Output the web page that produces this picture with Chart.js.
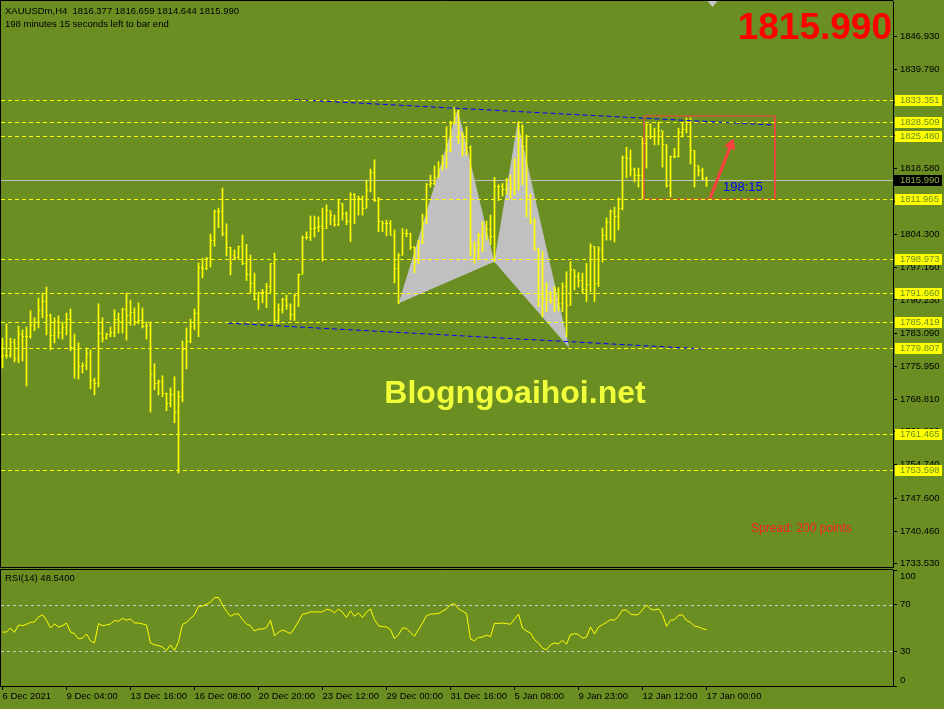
<!DOCTYPE html>
<html>
<head>
<meta charset="utf-8">
<title>XAUUSDm,H4</title>
<script src="https://cdn.jsdelivr.net/npm/chart.js@4.4.1/dist/chart.umd.min.js"></script>
<style>
  html, body { margin: 0; padding: 0; background: #6b8e23; }
  body { width: 944px; height: 709px; position: relative; overflow: hidden; }
  canvas { position: absolute; left: 0; }
  #main { top: 0; }
  #rsi { top: 569px; }
</style>
</head>
<body>
<canvas id="main" width="944" height="569"></canvas>
<canvas id="rsi" width="944" height="140"></canvas>
<script>
// bar data, oldest first (index 0 = 6 Dec 2021)
const opens = [
  1778.0, 1778.2, 1778.2, 1781.0, 1777.7, 1782.7, 1782.3, 1782.3, 1784.8, 1785.3,
  1787.9, 1789.8, 1786.8, 1782.5, 1785.5, 1783.3, 1784.4, 1786.1, 1780.1, 1779.5,
  1775.8, 1776.2, 1778.6, 1773.0, 1772.2, 1783.1, 1782.0, 1782.7, 1783.3, 1786.1,
  1785.5, 1788.1, 1786.8, 1787.6, 1785.5, 1785.7, 1784.6, 1784.8, 1774.1, 1772.2,
  1772.6, 1770.0, 1767.9, 1769.8, 1766.1, 1769.4, 1779.5, 1781.2, 1784.6, 1787.4,
  1797.3, 1797.1, 1799.2, 1803.1, 1809.2, 1809.2, 1804.6, 1801.6, 1799.9, 1799.4,
  1801.7, 1798.1, 1795.6, 1793.7, 1790.4, 1791.8, 1791.8, 1793.2, 1798.0, 1785.9,
  1788.1, 1790.4, 1789.1, 1787.0, 1791.1, 1795.8, 1803.7, 1803.7, 1805.6, 1805.8,
  1806.0, 1805.6, 1809.4, 1807.4, 1806.4, 1811.0, 1808.9, 1807.2, 1813.0, 1811.9,
  1812.1, 1810.0, 1813.7, 1817.7, 1811.6, 1807.1, 1806.7, 1806.6, 1804.2, 1796.9,
  1799.9, 1804.6, 1804.6, 1801.6, 1798.2, 1802.5, 1806.7, 1815.0, 1815.3, 1816.6,
  1818.2, 1819.8, 1822.1, 1828.2, 1830.4, 1826.2, 1825.4, 1823.1, 1801.7, 1801.3,
  1804.2, 1805.6, 1805.4, 1803.8, 1814.6, 1814.6, 1813.9, 1816.2, 1814.3, 1818.9,
  1827.5, 1823.2, 1812.8, 1807.1, 1801.1, 1790.9, 1790.6, 1790.2, 1790.2, 1792.4,
  1789.5, 1793.1, 1789.1, 1796.7, 1795.2, 1794.5, 1792.4, 1793.6, 1801.7, 1793.8,
  1801.0, 1804.2, 1807.0, 1809.2, 1808.1, 1810.0, 1820.8, 1820.6, 1818.2, 1817.1,
  1817.1, 1824.0, 1827.9, 1825.3, 1825.5, 1826.6, 1823.6, 1814.8, 1821.0, 1821.0,
  1826.2, 1826.8, 1828.5, 1822.3, 1819.1, 1818.0, 1816.377
];
const highs = [
  1782.0, 1785.1, 1782.0, 1781.8, 1784.6, 1783.8, 1784.4, 1787.9, 1786.4, 1790.6,
  1791.7, 1793.0, 1787.2, 1786.4, 1786.8, 1785.5, 1787.4, 1788.3, 1782.9, 1781.0,
  1776.7, 1779.9, 1779.5, 1773.4, 1789.4, 1786.4, 1783.1, 1784.4, 1788.1, 1787.4,
  1788.5, 1791.7, 1790.2, 1788.5, 1789.6, 1788.5, 1785.5, 1785.5, 1776.5, 1773.0,
  1773.9, 1770.2, 1771.3, 1773.7, 1770.6, 1781.4, 1784.2, 1786.1, 1788.3, 1798.2,
  1799.2, 1799.4, 1804.4, 1809.6, 1810.0, 1814.3, 1806.6, 1801.6, 1801.0, 1801.8,
  1804.2, 1802.2, 1799.9, 1796.0, 1791.9, 1792.5, 1793.8, 1798.1, 1800.3, 1789.4,
  1790.6, 1791.3, 1789.4, 1791.5, 1795.8, 1804.0, 1804.9, 1808.3, 1808.3, 1808.1,
  1810.0, 1810.7, 1809.4, 1808.5, 1811.9, 1811.0, 1809.2, 1813.3, 1813.1, 1812.6,
  1812.6, 1816.0, 1818.4, 1820.4, 1812.3, 1807.2, 1807.4, 1807.3, 1805.3, 1800.3,
  1805.6, 1805.4, 1804.6, 1801.7, 1803.1, 1808.7, 1815.3, 1817.1, 1819.1, 1820.0,
  1821.4, 1827.5, 1828.7, 1831.7, 1831.1, 1826.2, 1827.5, 1823.4, 1802.8, 1804.6,
  1807.1, 1807.2, 1808.5, 1816.6, 1815.0, 1815.3, 1816.4, 1817.1, 1820.7, 1828.6,
  1827.9, 1825.7, 1813.0, 1807.8, 1801.4, 1800.6, 1793.9, 1792.0, 1793.1, 1792.9,
  1793.9, 1796.3, 1798.5, 1796.7, 1796.1, 1796.0, 1798.1, 1802.3, 1801.7, 1801.7,
  1805.7, 1807.9, 1809.6, 1810.2, 1812.2, 1821.2, 1823.1, 1822.5, 1818.6, 1818.6,
  1825.1, 1828.1, 1828.1, 1827.2, 1828.5, 1826.6, 1823.6, 1821.2, 1822.9, 1827.2,
  1828.3, 1829.4, 1829.4, 1822.4, 1819.1, 1818.6, 1816.659
];
const lows = [
  1775.6, 1777.7, 1777.9, 1776.9, 1776.7, 1777.1, 1771.7, 1782.0, 1783.6, 1784.2,
  1786.4, 1782.7, 1779.5, 1781.0, 1782.0, 1781.8, 1782.7, 1779.3, 1773.4, 1773.2,
  1774.5, 1775.2, 1771.1, 1769.8, 1771.5, 1781.2, 1781.8, 1782.3, 1782.3, 1783.1,
  1783.1, 1781.6, 1784.8, 1784.8, 1785.1, 1784.2, 1781.8, 1766.1, 1770.9, 1769.8,
  1769.4, 1766.4, 1767.2, 1763.8, 1753.0, 1768.3, 1775.4, 1781.0, 1783.8, 1782.3,
  1795.0, 1796.7, 1797.3, 1801.8, 1805.8, 1804.0, 1799.7, 1795.6, 1799.0, 1799.0,
  1797.8, 1794.4, 1791.7, 1790.2, 1788.2, 1789.6, 1788.6, 1791.7, 1785.2, 1785.2,
  1787.4, 1788.2, 1785.9, 1785.8, 1788.8, 1795.8, 1803.3, 1803.0, 1803.8, 1804.9,
  1798.6, 1805.6, 1806.4, 1806.1, 1806.2, 1807.4, 1806.4, 1802.8, 1806.6, 1808.5,
  1808.5, 1810.0, 1813.5, 1811.4, 1804.9, 1804.9, 1804.0, 1804.2, 1793.9, 1789.4,
  1799.9, 1803.8, 1801.1, 1796.1, 1798.1, 1802.4, 1806.7, 1814.5, 1815.0, 1816.6,
  1818.2, 1818.6, 1822.1, 1828.1, 1823.9, 1821.2, 1821.4, 1799.7, 1798.2, 1799.2,
  1800.6, 1803.1, 1802.1, 1798.5, 1811.6, 1812.6, 1813.0, 1812.1, 1812.8, 1813.9,
  1815.0, 1808.1, 1806.6, 1801.0, 1788.8, 1786.6, 1787.7, 1789.5, 1787.7, 1787.9,
  1787.7, 1782.3, 1789.1, 1792.4, 1793.0, 1791.7, 1789.9, 1792.0, 1789.9, 1793.1,
  1798.4, 1803.1, 1803.1, 1802.7, 1805.3, 1809.6, 1816.5, 1816.9, 1815.6, 1814.5,
  1812.0, 1818.6, 1824.9, 1823.6, 1823.6, 1818.8, 1814.5, 1812.4, 1820.8, 1821.0,
  1825.3, 1826.2, 1819.5, 1814.5, 1816.9, 1816.1, 1814.644
];
const closes = [
  1778.2, 1778.2, 1781.0, 1777.7, 1782.7, 1782.3, 1782.3, 1784.8, 1785.3, 1787.9,
  1789.8, 1786.8, 1782.5, 1785.5, 1783.3, 1784.4, 1786.1, 1780.1, 1779.5, 1775.8,
  1776.2, 1778.6, 1773.0, 1772.2, 1783.1, 1782.0, 1782.7, 1783.3, 1786.1, 1785.5,
  1788.1, 1786.8, 1787.6, 1785.5, 1785.7, 1784.6, 1784.8, 1774.1, 1772.2, 1772.6,
  1770.0, 1767.9, 1769.8, 1766.1, 1769.4, 1779.5, 1781.2, 1784.6, 1787.4, 1797.3,
  1797.1, 1799.2, 1803.1, 1809.2, 1809.2, 1804.6, 1801.6, 1798.1, 1799.4, 1801.7,
  1798.1, 1795.6, 1793.7, 1790.4, 1791.8, 1791.8, 1793.2, 1798.0, 1785.9, 1788.1,
  1790.4, 1789.1, 1787.0, 1791.1, 1795.8, 1803.7, 1803.7, 1805.6, 1805.8, 1806.0,
  1805.6, 1809.4, 1808.5, 1806.4, 1811.2, 1808.9, 1807.2, 1813.0, 1811.9, 1812.1,
  1810.0, 1813.7, 1817.7, 1811.6, 1807.1, 1806.7, 1806.6, 1804.2, 1796.9, 1799.9,
  1804.6, 1804.6, 1801.6, 1798.2, 1802.5, 1806.7, 1815.0, 1815.3, 1816.6, 1818.2,
  1819.8, 1822.1, 1828.2, 1830.4, 1826.2, 1825.4, 1823.1, 1801.7, 1801.3, 1804.2,
  1805.6, 1805.4, 1803.8, 1814.6, 1814.6, 1813.9, 1816.2, 1814.3, 1818.9, 1827.5,
  1823.2, 1812.8, 1807.1, 1801.1, 1790.9, 1790.6, 1790.2, 1790.2, 1792.4, 1789.5,
  1793.1, 1789.1, 1796.7, 1795.2, 1794.5, 1792.4, 1793.6, 1801.7, 1793.8, 1801.0,
  1804.2, 1807.0, 1809.2, 1808.1, 1810.0, 1820.8, 1820.6, 1818.2, 1817.1, 1817.1,
  1824.0, 1827.9, 1825.3, 1825.5, 1826.6, 1823.6, 1814.8, 1821.0, 1821.0, 1826.2,
  1826.8, 1828.5, 1822.3, 1819.1, 1818.0, 1816.4, 1815.990
];
const rsi = [
  46.5, 46.5, 50.0, 46.2, 52.6, 52.0, 53.2, 54.9, 55.2, 59.6,
  61.3, 56.7, 50.0, 53.5, 50.9, 52.0, 54.3, 46.5, 45.1, 40.7,
  41.3, 44.8, 39.0, 37.2, 53.8, 52.0, 52.6, 53.5, 56.4, 55.8,
  58.4, 56.7, 57.8, 54.3, 54.3, 53.5, 52.6, 37.0, 35.5, 34.9,
  33.5, 30.6, 35.5, 30.6, 38.4, 53.2, 54.9, 58.4, 61.3, 68.8,
  68.8, 70.6, 72.3, 76.1, 76.4, 69.7, 64.5, 60.1, 61.9, 62.2,
  57.2, 53.5, 52.0, 47.4, 49.1, 49.1, 50.3, 56.7, 43.3, 46.2,
  48.3, 46.8, 45.1, 50.0, 55.8, 61.9, 62.5, 63.9, 63.9, 63.9,
  63.9, 66.2, 65.4, 63.0, 66.5, 63.6, 59.0, 64.8, 60.1, 63.0,
  59.0, 63.6, 66.5, 57.2, 52.0, 51.2, 50.9, 48.6, 40.7, 44.2,
  50.0, 49.7, 46.2, 43.0, 48.6, 54.3, 60.7, 61.9, 62.2, 62.5,
  64.5, 66.5, 70.3, 70.9, 66.5, 64.5, 62.5, 40.4, 39.0, 41.9,
  42.2, 43.9, 42.5, 54.1, 53.8, 54.3, 53.8, 53.2, 57.8, 61.9,
  50.0, 47.4, 45.7, 39.9, 37.0, 32.6, 31.2, 35.5, 37.0, 36.4,
  39.3, 36.1, 44.2, 45.1, 44.5, 41.3, 42.2, 50.9, 44.8, 50.9,
  52.9, 54.9, 57.2, 56.7, 60.1, 65.4, 65.4, 62.2, 61.3, 61.6,
  65.9, 69.7, 66.5, 65.4, 66.5, 61.6, 51.4, 56.7, 57.2, 61.0,
  61.3, 56.4, 54.9, 51.7, 50.9, 49.4, 48.54
];

const timeLabels = ['6 Dec 2021', '9 Dec 04:00', '13 Dec 16:00', '16 Dec 08:00', '20 Dec 20:00', '23 Dec 12:00',
  '29 Dec 00:00', '31 Dec 16:00', '5 Jan 08:00', '9 Jan 23:00', '12 Jan 12:00', '17 Jan 00:00'];
const tickStep = 16; // one time label every 16 bars
const priceTicks = [1846.930, 1839.790, 1832.650, 1825.720, 1818.580, 1811.440, 1804.300, 1797.160, 1790.230,
  1783.090, 1775.950, 1768.810, 1761.880, 1754.740, 1747.600, 1740.460, 1733.530];
const levels = [1833.351, 1828.509, 1825.480, 1811.965, 1798.973, 1791.660, 1785.419, 1779.807, 1761.465, 1753.598];
const rsiTicks = [0, 30, 70, 100];
const rsiLevels = [70, 30];

// drawn objects, in bar index / price
const trendUpper = [{ x: 73.1, y: 1833.32 }, { x: 192.4, y: 1827.88 }];
const trendLower = [{ x: 56.4, y: 1785.23 }, { x: 175.6, y: 1779.67 }];
const patternA = [{ x: 99.05, y: 1789.51 }, { x: 113.8, y: 1831.32 }, { x: 122.95, y: 1798.46 }];
const patternB = [{ x: 122.95, y: 1798.46 }, { x: 128.8, y: 1828.59 }, { x: 141.7, y: 1779.89 }];
const boxCorners = [{ x: 160.4, y: 1811.89 }, { x: 160.4, y: 1829.82 }, { x: 193.1, y: 1829.82 },
  { x: 193.1, y: 1811.89 }, { x: 160.4, y: 1811.89 }];
const arrow = [{ x: 176.9, y: 1812.1 }, { x: 182.1, y: 1823.6 }];

const xMin = -0.375, xMax = 222.625;
const yMin = 1732.76, yMax = 1854.56;
const FONT = '"Liberation Sans", Arial, sans-serif';
const BG = '#6b8e23';
const last = closes.length - 1;

Chart.defaults.font.family = FONT;
Chart.defaults.font.size = 9.5;
Chart.defaults.color = '#000';

function tickImg(col) {
  const c = document.createElement('canvas');
  c.width = 5;
  c.height = 1;
  const g = c.getContext('2d');
  g.fillStyle = '#ffff00';
  g.fillRect(col, 0, 1, 1);
  return c;
}

function hline(ctx, a, py) {
  ctx.beginPath();
  ctx.moveTo(a.left, py);
  ctx.lineTo(a.right, py);
  ctx.stroke();
}

const mainDecor = {
  id: 'mainDecor',
  beforeDatasetsDraw(chart) {
    const { ctx, chartArea: a, scales: { y } } = chart;
    ctx.save();
    ctx.strokeStyle = '#c0c0c0';
    ctx.lineWidth = 1;
    hline(ctx, a, Math.round(y.getPixelForValue(closes[last])) + 0.5);
    ctx.restore();
  },
  afterDatasetsDraw(chart) {
    const { ctx, chartArea: a, scales: { y } } = chart;
    ctx.save();
    ctx.strokeStyle = '#ffff00';
    ctx.lineWidth = 1;
    ctx.setLineDash([4, 3]);
    levels.forEach(v => hline(ctx, a, Math.round(y.getPixelForValue(v)) + 0.5));
    ctx.restore();
  },
  afterDraw(chart) {
    const { ctx, chartArea: a, scales: { x, y } } = chart;
    ctx.save();
    // panel frame
    ctx.strokeStyle = '#000';
    ctx.lineWidth = 1;
    ctx.beginPath();
    ctx.moveTo(0.5, 0); ctx.lineTo(0.5, a.bottom + 1);
    ctx.moveTo(0, 0.5); ctx.lineTo(a.right, 0.5);
    ctx.moveTo(0, a.bottom + 0.5); ctx.lineTo(a.right + 1, a.bottom + 0.5);
    ctx.stroke();

    // price labels on the axis
    ctx.font = '9.5px ' + FONT;
    ctx.textBaseline = 'middle';
    ctx.textAlign = 'left';
    levels.forEach(v => {
      const py = Math.round(y.getPixelForValue(v));
      ctx.fillStyle = '#ffff00';
      ctx.fillRect(a.right + 2, py - 5, 47, 11);
      ctx.fillStyle = BG;
      ctx.fillText(v.toFixed(3), a.right + 7, py + 0.5);
    });
    const pc = Math.round(y.getPixelForValue(closes[last]));
    ctx.fillStyle = '#000';
    ctx.fillRect(a.right + 1, pc - 5, 48, 11);
    ctx.fillStyle = '#8fae4a';
    ctx.fillText(closes[last].toFixed(3), a.right + 7, pc + 0.5);

    // header
    ctx.fillStyle = '#000';
    ctx.fillText('XAUUSDm,H4  ' + opens[last].toFixed(3) + ' ' + highs[last].toFixed(3) + ' ' +
      lows[last].toFixed(3) + ' ' + closes[last].toFixed(3), 5, 11);
    ctx.fillText('198 minutes 15 seconds left to bar end', 5, 24);

    // shift marker
    const sx = Math.round(x.getPixelForValue(177.4)) + 0.5;
    ctx.fillStyle = '#c8c8c8';
    ctx.beginPath();
    ctx.moveTo(sx - 5, 1); ctx.lineTo(sx + 5, 1); ctx.lineTo(sx, 7);
    ctx.closePath();
    ctx.fill();

    // big price
    ctx.fillStyle = '#ff0000';
    ctx.font = 'bold 37px ' + FONT;
    ctx.textAlign = 'right';
    ctx.textBaseline = 'alphabetic';
    ctx.fillText(closes[last].toFixed(3), a.right - 1, 39);

    // watermark
    ctx.fillStyle = '#f0ff3a';
    ctx.font = 'bold 32px ' + FONT;
    ctx.textAlign = 'center';
    ctx.textBaseline = 'middle';
    ctx.fillText('Blogngoaihoi.net', 515, 394);

    // spread + countdown
    ctx.textAlign = 'left';
    ctx.font = '12px ' + FONT;
    ctx.fillStyle = '#ff2020';
    ctx.fillText('Spread: 200 points', 751, 529);
    ctx.font = '13px ' + FONT;
    ctx.fillStyle = '#0000ff';
    ctx.fillText('198:15', 723, 187);
    ctx.restore();
  }
};

new Chart(document.getElementById('main'), {
  type: 'bar',
  data: {
    datasets: [
      { type: 'line', data: patternA, fill: 'shape', backgroundColor: '#c0c0c0', borderWidth: 0, pointRadius: 0, order: 10 },
      { type: 'line', data: patternB, fill: 'shape', backgroundColor: '#c0c0c0', borderWidth: 0, pointRadius: 0, order: 10 },
      {
        type: 'bar',
        data: highs.map((h, i) => ({ x: i, y: [lows[i], h] })),
        backgroundColor: '#ffff00',
        borderWidth: 0,
        barThickness: 1,
        order: 6
      },
      { type: 'line', data: opens.map((v, i) => ({ x: i, y: v })), showLine: false, pointStyle: tickImg(1), pointRadius: 1, order: 5 },
      { type: 'line', data: closes.map((v, i) => ({ x: i, y: v })), showLine: false, pointStyle: tickImg(3), pointRadius: 1, order: 5 },
      { type: 'line', data: trendUpper, borderColor: '#0000ff', borderWidth: 1, borderDash: [5, 3], pointRadius: 0, order: 4 },
      { type: 'line', data: trendLower, borderColor: '#0000ff', borderWidth: 1, borderDash: [5, 3], pointRadius: 0, order: 4 },
      { type: 'line', data: boxCorners, borderColor: '#ff4040', borderWidth: 1, pointRadius: 0, order: 3 },
      {
        type: 'line',
        data: arrow,
        borderColor: '#ff4040',
        borderWidth: 3,
        pointStyle: 'triangle',
        pointRadius: [0, 6],
        rotation: 21,
        pointBackgroundColor: '#ff4040',
        pointBorderColor: '#ff4040',
        pointBorderWidth: 1,
        order: 2
      }
    ]
  },
  options: {
    responsive: false,
    animation: false,
    events: [],
    layout: { autoPadding: false, padding: { top: 1, left: 1, bottom: 2, right: 0 } },
    plugins: { legend: { display: false }, tooltip: { enabled: false } },
    scales: {
      x: { type: 'linear', min: xMin, max: xMax, offset: false, display: false },
      y: {
        position: 'right',
        min: yMin,
        max: yMax,
        afterBuildTicks: (s) => { s.ticks = priceTicks.map(v => ({ value: v })); },
        afterFit: (s) => { s.width = 51; s.paddingTop = 0; s.paddingBottom = 0; },
        ticks: { autoSkip: false, padding: 3, color: '#000', callback: (v) => Number(v).toFixed(3) },
        grid: { drawOnChartArea: false, tickLength: 4, color: '#000' },
        border: { color: '#000' }
      }
    }
  },
  plugins: [mainDecor]
});

const rsiDecor = {
  id: 'rsiDecor',
  beforeDatasetsDraw(chart) {
    const { ctx, chartArea: a, scales: { y } } = chart;
    ctx.save();
    ctx.strokeStyle = '#c8c8c8';
    ctx.lineWidth = 1;
    ctx.setLineDash([3, 3]);
    rsiLevels.forEach(v => hline(ctx, a, Math.round(y.getPixelForValue(v)) + 0.5));
    ctx.restore();
  },
  afterDraw(chart) {
    const { ctx, chartArea: a, scales: { y } } = chart;
    ctx.save();
    ctx.strokeStyle = '#000';
    ctx.lineWidth = 1;
    ctx.beginPath();
    ctx.moveTo(0.5, 0); ctx.lineTo(0.5, a.bottom + 1);
    ctx.moveTo(0, 0.5); ctx.lineTo(a.right, 0.5);
    ctx.stroke();

    ctx.font = '9.5px ' + FONT;
    ctx.fillStyle = '#000';
    ctx.textBaseline = 'middle';
    ctx.textAlign = 'left';
    rsiTicks.forEach(v => {
      const py = Math.min(Math.max(y.getPixelForValue(v), a.top + 6.5), a.bottom - 6);
      ctx.fillText(String(v), a.right + 7, py);
    });
    ctx.fillText('RSI(14) ' + rsi[last].toFixed(4), 5, 9);
    ctx.restore();
  }
};

new Chart(document.getElementById('rsi'), {
  type: 'line',
  data: {
    datasets: [{
      data: rsi.map((v, i) => ({ x: i, y: v })),
      borderColor: '#ffff00',
      borderWidth: 1,
      pointRadius: 0,
      tension: 0
    }]
  },
  options: {
    responsive: false,
    animation: false,
    events: [],
    layout: { autoPadding: false, padding: { top: 1, left: 1, bottom: 0, right: 0 } },
    plugins: { legend: { display: false }, tooltip: { enabled: false } },
    scales: {
      x: {
        type: 'linear',
        min: xMin,
        max: xMax,
        afterBuildTicks: (s) => { s.ticks = timeLabels.map((_, i) => ({ value: i * tickStep })); },
        afterFit: (s) => { s.height = 23; s.paddingLeft = 0; s.paddingRight = 0; },
        ticks: {
          autoSkip: false,
          maxRotation: 0,
          align: 'start',
          padding: 1,
          color: '#000',
          callback: (v) => timeLabels[Math.round(v / tickStep)]
        },
        grid: { drawOnChartArea: false, tickLength: 4, color: '#000' },
        border: { color: '#000' }
      },
      y: {
        position: 'right',
        min: 0,
        max: 100,
        afterBuildTicks: (s) => { s.ticks = rsiTicks.map(v => ({ value: v })); },
        afterFit: (s) => { s.width = 51; s.paddingTop = 0; s.paddingBottom = 0; },
        ticks: { display: false },
        grid: { drawOnChartArea: false, tickLength: 4, color: '#000' },
        border: { color: '#000' }
      }
    }
  },
  plugins: [rsiDecor]
});
</script>
</body>
</html>
